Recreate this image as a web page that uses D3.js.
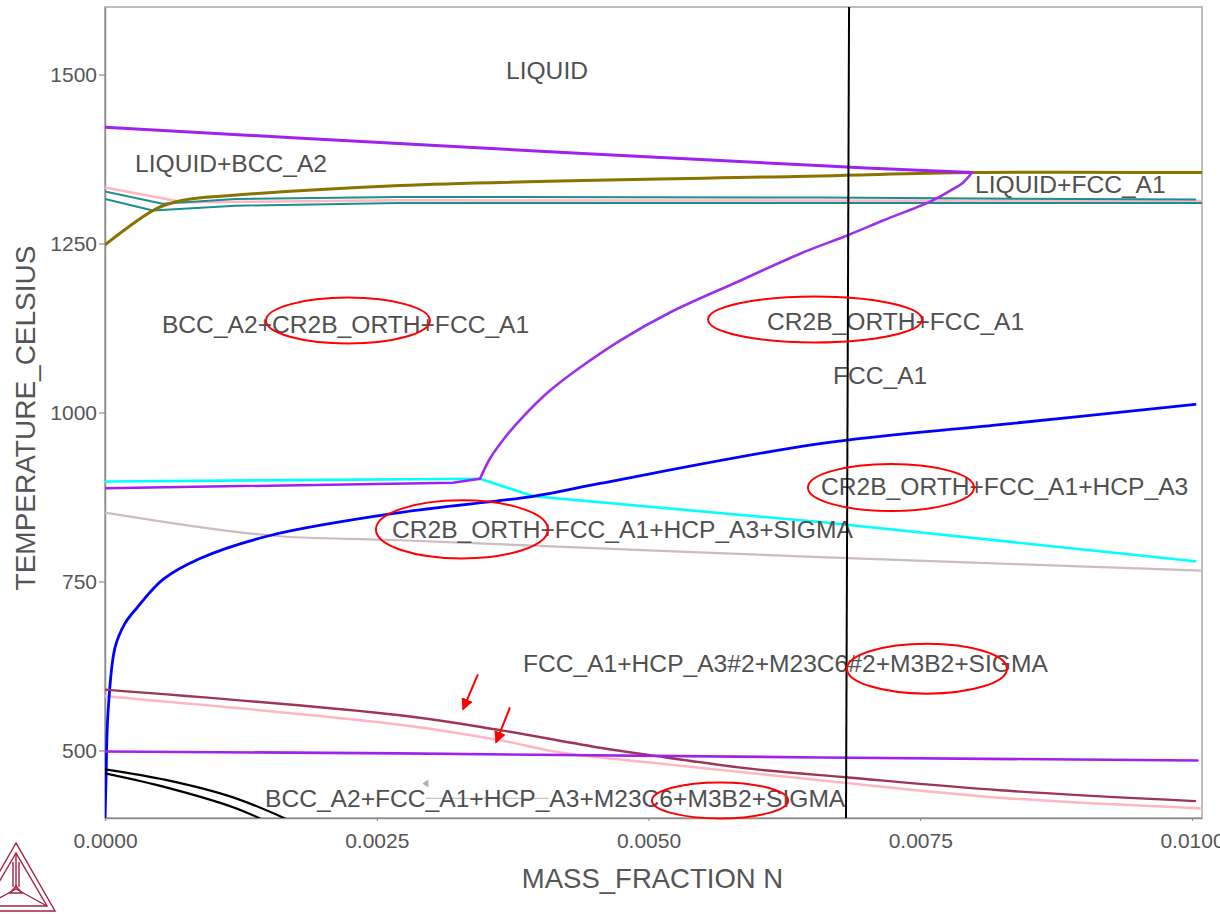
<!DOCTYPE html>
<html>
<head>
<meta charset="utf-8">
<script src="https://cdn.jsdelivr.net/npm/d3@7"></script>
<style>
  body { margin: 0; background: #fff; }
  svg { display: block; font-family: "Liberation Sans", Arial, Helvetica, sans-serif; }
</style>
</head>
<body>
<svg id="graph" width="1220" height="914"></svg>
<script>
// Tick values
const xTicks = [0, 0.0025, 0.005, 0.0075, 0.01];
const yTicks = [500, 750, 1000, 1250, 1500];

// Phase boundaries as [mass fraction N, temperature in Celsius]
const purpleLiquidus = [[0, 1422], [0.0027, 1398], [0.0066, 1365], [0.007976, 1355]];
const purpleSolvus = [
  [0.007976, 1355], [0.007893, 1340], [0.007774, 1328], [0.00759, 1312], [0.007157, 1284],
  [0.006844, 1263], [0.006394, 1235], [0.005842, 1195], [0.005198, 1148], [0.004738, 1106.5],
  [0.00437, 1066.6], [0.004094, 1032.5], [0.003864, 997], [0.00368, 963], [0.003542, 932],
  [0.00345, 902]
];
const purpleLow = [[0.00345, 902], [0.0032, 896], [0, 888]];
const cyanBoundary = [[0, 898], [0.00345, 902], [0.00394, 876], [0.00658, 838], [0.01003, 780]];
const blueBoundary = [
  [0, 399], [0.0000092, 456], [0.0000276, 555], [0.000092, 652], [0.000184, 688],
  [0.000294, 711], [0.000534, 753], [0.000874, 784], [0.001518, 818], [0.002714, 852],
  [0.003937, 876], [0.004554, 895], [0.006578, 954], [0.008234, 982], [0.010028, 1012]
];
const grayBoundary = [[0, 852], [0.001518, 818], [0.002714, 811], [0.006578, 786], [0.0101, 766]];
const oliveBoundary = [
  [0, 1248], [0.000478, 1302], [0.000718, 1314], [0.00115, 1321], [0.002714, 1336],
  [0.006578, 1350], [0.007976, 1355], [0.0101, 1355]
];
const tealUpper = [[0, 1327], [0.00053, 1309], [0.0012, 1316], [0.0027, 1319], [0.0066, 1318], [0.01003, 1315]];
const tealLower = [[0, 1316], [0.00044, 1299], [0.0012, 1306], [0.0027, 1310], [0.0066, 1310], [0.0101, 1310]];
const pinkUpper = [[0, 1333], [0.00072, 1311], [0.0027, 1314], [0.0101, 1313]];
const maroonBoundary = [
  [0, 590], [0.002714, 552], [0.003634, 530], [0.004554, 504], [0.005014, 493],
  [0.005934, 473], [0.006835, 460], [0.008234, 441], [0.010028, 425]
];
const pinkLower = [
  [0, 580], [0.002714, 538], [0.003634, 515], [0.004186, 497], [0.005014, 482],
  [0.006578, 456], [0.008234, 430], [0.0101, 414]
];
const purpleBottom = [[0, 498.5], [0.002714, 495.6], [0.006578, 489.6], [0.01005, 485]];
const blackUpper = [[0, 472], [0.00057, 456], [0.001178, 430.5], [0.001656, 399.4]];
const blackLower = [[0, 466], [0.00057, 445], [0.001178, 416], [0.001426, 399.4]];
const sectionLine = [[0.006845, 1600], [0.006817, 400]];

// Phase region labels: text, [mass fraction, temperature] of left baseline
const labelTexts = [
  "LIQUID", "LIQUID+BCC_A2", "LIQUID+FCC_A1", "BCC_A2+CR2B_ORTH+FCC_A1", "CR2B_ORTH+FCC_A1",
  "FCC_A1", "CR2B_ORTH+FCC_A1+HCP_A3", "CR2B_ORTH+FCC_A1+HCP_A3+SIGMA",
  "FCC_A1+HCP_A3#2+M23C6#2+M3B2+SIGMA", "BCC_A2+FCC_A1+HCP_A3+M23C6+M3B2+SIGMA"
];
const labelPositions = [
  [0.003689, 1494], [0.000276, 1356.5], [0.008004, 1325.4], [0.000524, 1118.3], [0.00609, 1122.8],
  [0.006697, 1042.9], [0.006587, 877.2], [0.00264, 813.6], [0.003845, 615.4], [0.001472, 415.7]
];

// Red annotation ellipses: centre and half extents, in data units
const markCentres = [[0.002235, 1136], [0.006532, 1137.6], [0.007231, 889], [0.003284, 827], [0.007562, 621], [0.005658, 426]];
const markHalfExtents = [[0.000754, 34], [0.000984, 34], [0.000764, 34.8], [0.000791, 43], [0.000736, 37], [0.000626, 26.6]];

// Red arrows: [from, to]
const arrowSegments = [
  [[0.003431, 612.4], [0.003293, 560.6]],
  [[0.003726, 563.6], [0.003597, 511.8]]
];

const init = () => {
  drawChart();
};

const drawChart = () => {
  const svg = d3.select("#graph"),
    margin = {top: 7, right: 18, bottom: 96, left: 105},
    width = svg.attr("width") - margin.left - margin.right,
    height = svg.attr("height") - margin.top - margin.bottom;

  const x = d3.scaleLinear().domain([0, 0.010092]).range([margin.left, margin.left + width]);
  const y = d3.scaleLinear().domain([400, 1600]).range([margin.top + height, margin.top]);

  svg.append("defs").append("clipPath")
    .attr("id", "plot-clip")
    .append("rect")
    .attr("x", margin.left).attr("y", margin.top)
    .attr("width", width).attr("height", height);

  // Frame
  svg.append("rect")
    .attr("x", margin.left).attr("y", margin.top)
    .attr("width", width).attr("height", height)
    .attr("fill", "none")
    .attr("stroke", "#a8a8a8")
    .attr("stroke-width", 1.5);

  // Y - Axis
  const yAxis = svg.append("g")
    .attr("transform", `translate(${margin.left},0)`)
    .call(d3.axisLeft(y).tickValues(yTicks).tickFormat(d3.format("d")).tickSize(6).tickPadding(2).tickSizeOuter(0));

  // X - Axis
  const xAxis = svg.append("g")
    .attr("transform", `translate(0,${margin.top + height})`)
    .call(d3.axisBottom(x).tickValues(xTicks).tickFormat(d3.format(".4f")).tickSize(3).tickPadding(12).tickSizeOuter(0));

  [yAxis, xAxis].forEach(a => {
    a.select(".domain").attr("stroke", "#8c8c8c").attr("stroke-width", 1.5);
    a.selectAll(".tick line").attr("stroke", "#8c8c8c").attr("stroke-width", 1.2);
    a.selectAll(".tick text")
      .attr("fill", "#555")
      .style("font-size", "21px")
      .style("font-family", "'Liberation Sans', Arial, sans-serif");
  });

  // Axis titles
  svg.append("text")
    .attr("transform", `translate(${margin.left + width / 2 - 1},${888})`)
    .style("text-anchor", "middle")
    .style("font-size", "27.5px")
    .attr("fill", "#555")
    .text("MASS_FRACTION N");

  svg.append("text")
    .attr("transform", `translate(35,${418}) rotate(-90)`)
    .style("text-anchor", "middle")
    .style("font-size", "28px")
    .attr("fill", "#555")
    .text("TEMPERATURE_CELSIUS");

  const plot = svg.append("g").attr("clip-path", "url(#plot-clip)");

  const straight = d3.line().x(d => x(d[0])).y(d => y(d[1]));
  const smooth = d3.line().x(d => x(d[0])).y(d => y(d[1])).curve(d3.curveCatmullRom.alpha(0.5));

  // Boundary lines, drawn bottom layer first
  const lines = [
    {data: pinkUpper, color: "#ffb6c1", w: 2.5, gen: straight},
    {data: grayBoundary, color: "#cbbcbf", w: 2.2, gen: smooth},
    {data: pinkLower, color: "#ffb6c1", w: 2.5, gen: smooth},
    {data: tealUpper, color: "#1a8f8f", w: 2, gen: straight},
    {data: tealLower, color: "#1a8f8f", w: 2, gen: straight},
    {data: oliveBoundary, color: "#8a7300", w: 3, gen: smooth},
    {data: cyanBoundary, color: "#00ffff", w: 2.6, gen: straight},
    {data: purpleLow, color: "#a020f0", w: 2.5, gen: straight},
    {data: purpleLiquidus, color: "#a020f0", w: 3, gen: smooth},
    {data: purpleSolvus, color: "#9b30e8", w: 2.6, gen: smooth},
    {data: blueBoundary, color: "#0000ff", w: 2.8, gen: smooth},
    {data: maroonBoundary, color: "#9e3457", w: 2.4, gen: smooth},
    {data: purpleBottom, color: "#a020f0", w: 2.6, gen: straight},
    {data: blackUpper, color: "#000", w: 2.2, gen: smooth},
    {data: blackLower, color: "#000", w: 2.2, gen: smooth}
  ];

  lines.forEach(l => {
    plot.append("path")
      .datum(l.data)
      .attr("fill", "none")
      .attr("stroke", l.color)
      .attr("stroke-width", l.w)
      .attr("stroke-linejoin", "round")
      .attr("stroke-linecap", "round")
      .attr("d", l.gen);
  });

  // Small gray pointer near bottom label
  plot.append("path")
    .attr("d", `M${x(0.00292)},${y(451)} l6,-4 l0,8 Z`)
    .attr("fill", "#b0b0b0");
  plot.append("line")
    .attr("x1", x(0.00295)).attr("x2", x(0.00408))
    .attr("y1", y(429)).attr("y2", y(429))
    .attr("stroke", "#c4c4c4").attr("stroke-width", 1.2);

  // Region labels
  svg.append("g")
    .selectAll("text")
    .data(labelTexts)
    .join("text")
    .attr("x", (d, i) => x(labelPositions[i][0]))
    .attr("y", (d, i) => y(labelPositions[i][1]))
    .attr("fill", "#505050")
    .style("font-size", "24.6px")
    .text(d => d);

  // Vertical section line
  svg.append("path")
    .datum(sectionLine)
    .attr("fill", "none")
    .attr("stroke", "#000")
    .attr("stroke-width", 2)
    .attr("d", straight);

  // Red ellipses
  svg.append("g")
    .selectAll("ellipse")
    .data(markCentres)
    .join("ellipse")
    .attr("cx", d => x(d[0]))
    .attr("cy", d => y(d[1]))
    .attr("rx", (d, i) => x(markHalfExtents[i][0]) - x(0))
    .attr("ry", (d, i) => y(0) - y(markHalfExtents[i][1]))
    .attr("fill", "none")
    .attr("stroke", "#ff0000")
    .attr("stroke-width", 2);

  // Red arrows
  svg.append("defs").append("marker")
    .attr("id", "arrow-head")
    .attr("viewBox", "0 0 10 10")
    .attr("refX", 9).attr("refY", 5)
    .attr("markerWidth", 6).attr("markerHeight", 6)
    .attr("markerUnits", "strokeWidth")
    .attr("orient", "auto")
    .append("path")
    .attr("d", "M0,0 L10,5 L0,10 Z")
    .attr("fill", "#ff0000");

  svg.append("g")
    .selectAll("line")
    .data(arrowSegments)
    .join("line")
    .attr("x1", d => x(d[0][0])).attr("y1", d => y(d[0][1]))
    .attr("x2", d => x(d[1][0])).attr("y2", d => y(d[1][1]))
    .attr("stroke", "#ff0000")
    .attr("stroke-width", 2)
    .attr("marker-end", "url(#arrow-head)");

  // Logo (triangle mark, bottom left)
  const logo = svg.append("g")
    .attr("fill", "none")
    .attr("stroke", "#a3223f")
    .attr("stroke-width", 1.4);
  logo.append("path").attr("d", "M16,843 L-23,911 L55,911 Z");
  logo.append("path").attr("d", "M16,853 L-15,906 L47,906 Z");
  logo.append("path").attr("d", "M16,853 L16,889 M16,889 L47,906 M16,889 L-15,906");
  logo.append("path").attr("d", "M13,862 L13,887 M19,862 L19,887");
  logo.append("path").attr("d", "M10,893 L16,886 L22,893 Z");
};

init();
</script>
</body>
</html>
